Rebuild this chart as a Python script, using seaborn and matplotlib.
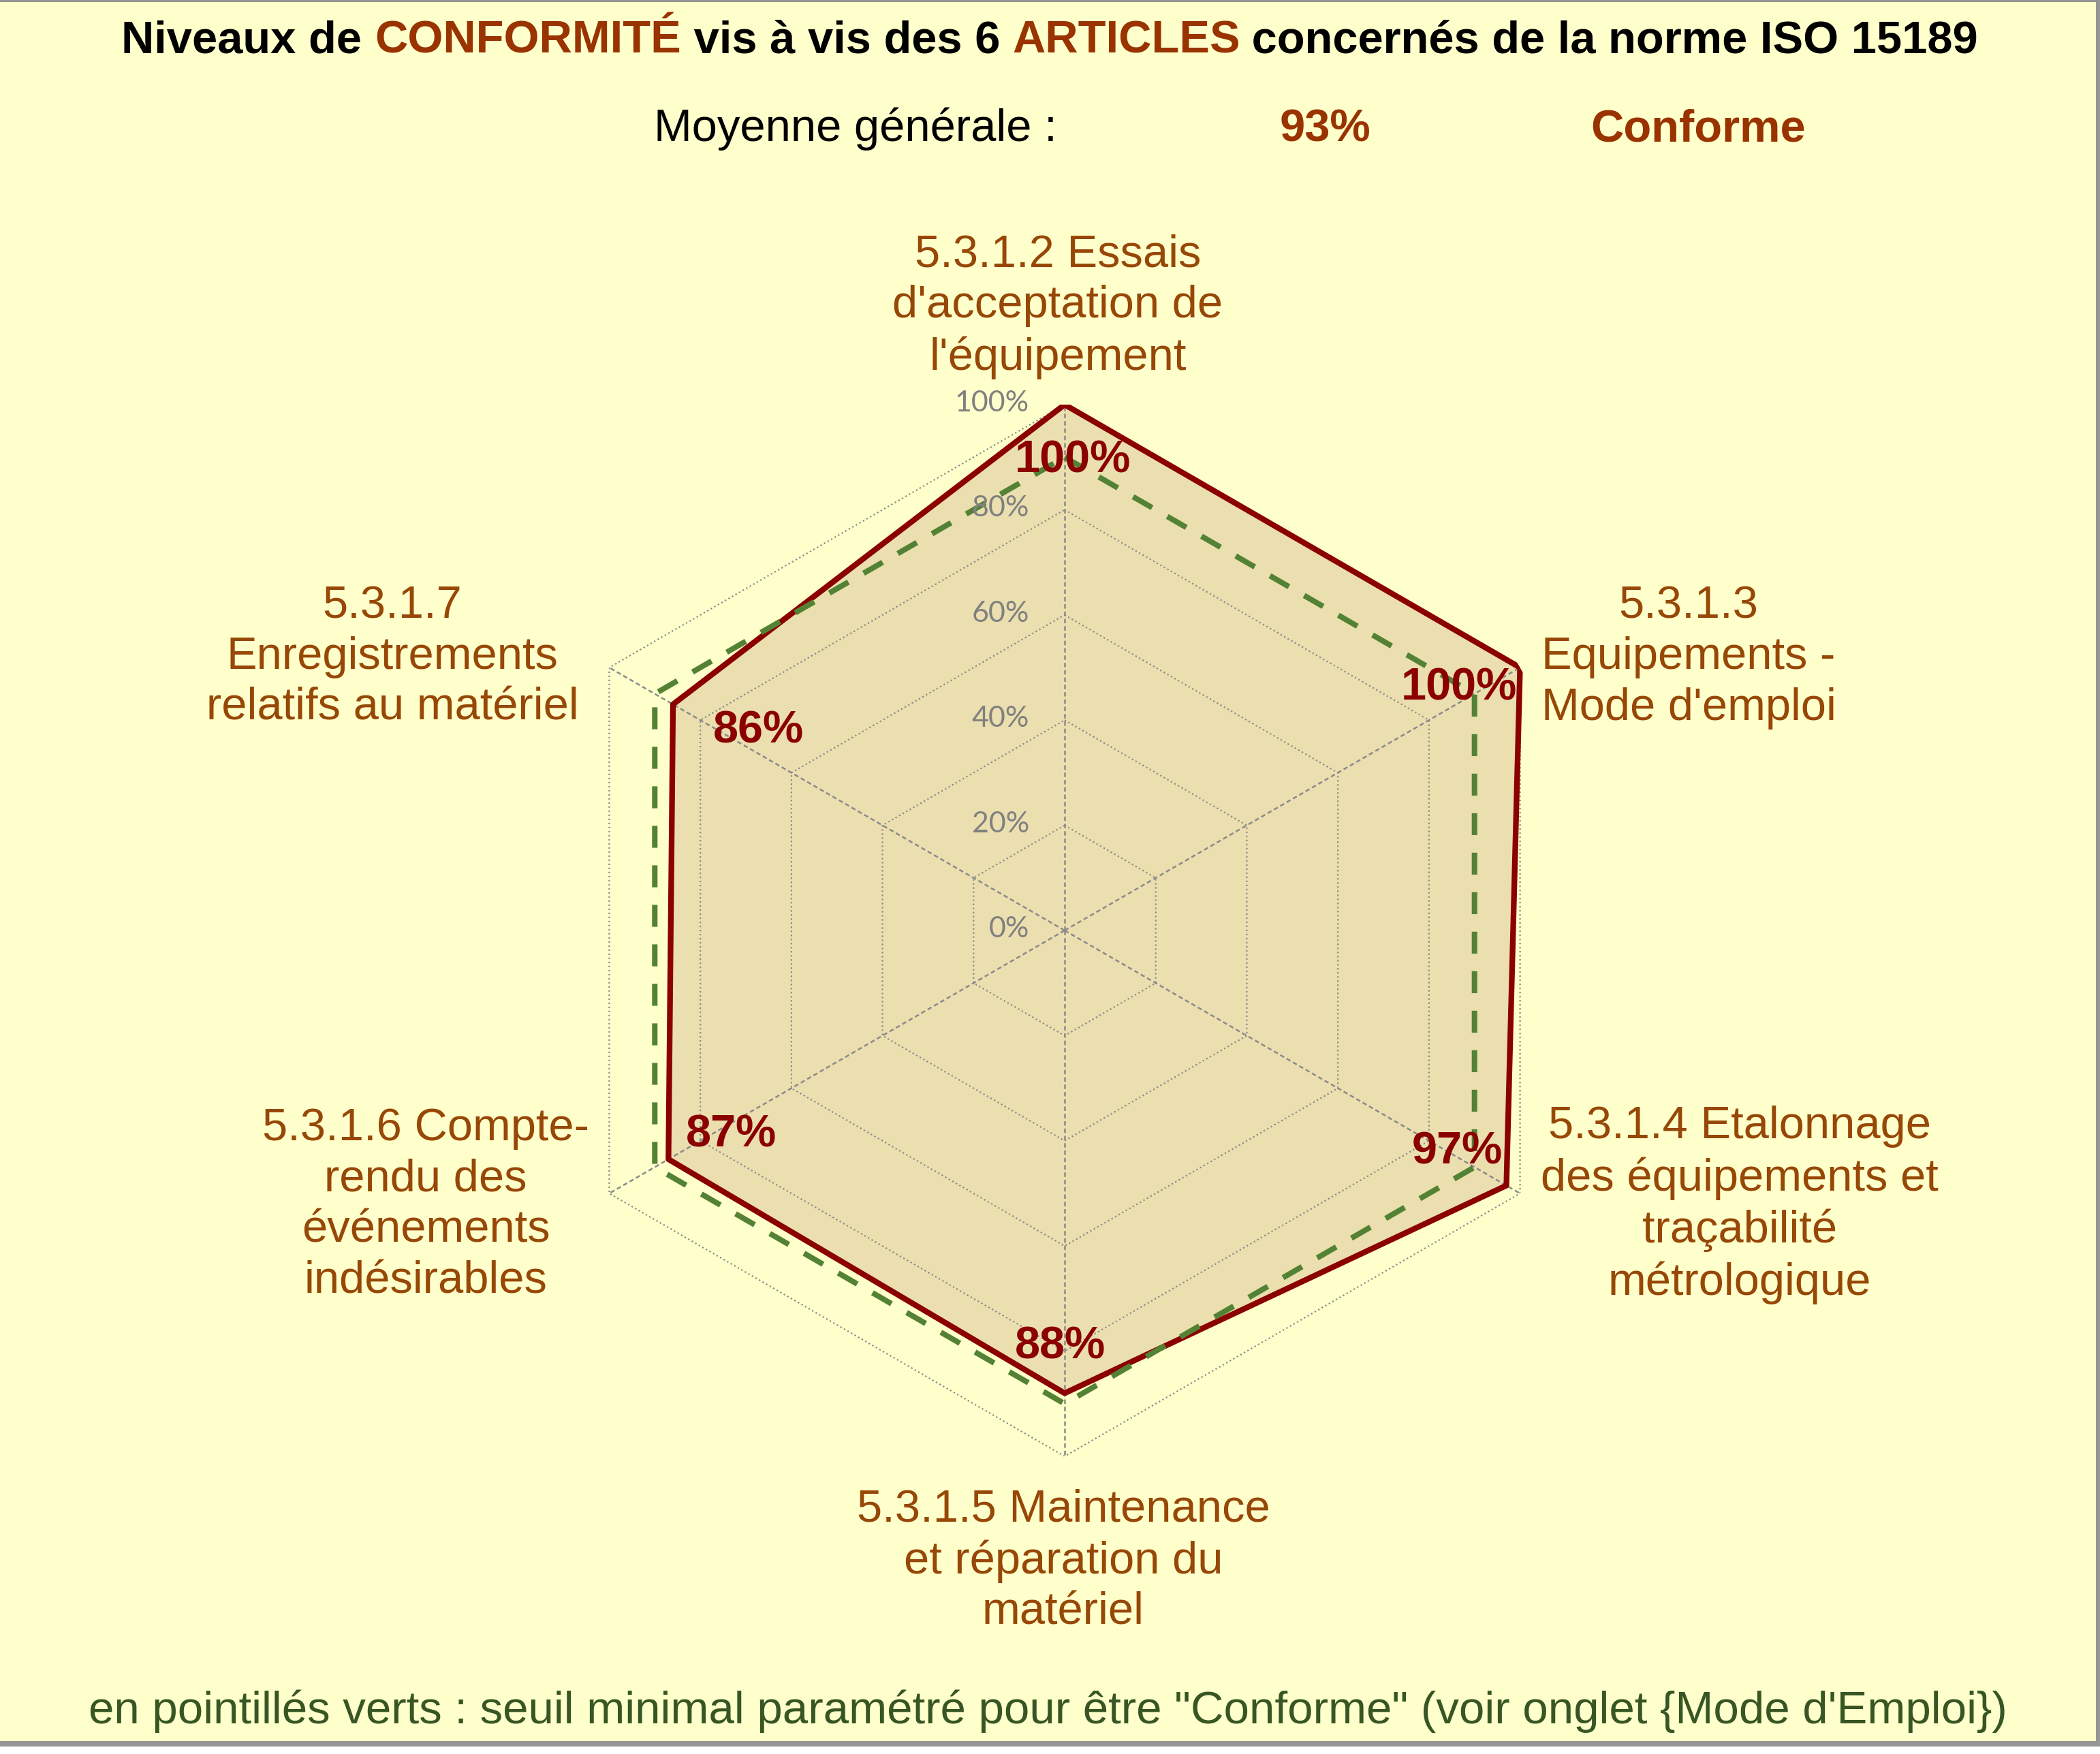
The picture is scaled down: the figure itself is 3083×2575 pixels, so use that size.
import numpy as np
import matplotlib
matplotlib.use("Agg")
import matplotlib.pyplot as plt
from matplotlib.patches import Rectangle
import seaborn as sns

# ---------------- data ----------------
categories = [
    "5.3.1.2 Essais\nd'acceptation de\nl'équipement",
    "5.3.1.3\nEquipements -\nMode d'emploi",
    "5.3.1.4 Etalonnage\ndes équipements et\ntraçabilité\nmétrologique",
    "5.3.1.5 Maintenance\net réparation du\nmatériel",
    "5.3.1.6 Compte-\nrendu des\névénements\nindésirables",
    "5.3.1.7\nEnregistrements\nrelatifs au matériel",
]
scores = [1.00, 1.00, 0.97, 0.88, 0.87, 0.86]
threshold = [0.90, 0.90, 0.90, 0.90, 0.90, 0.90]
value_labels = ["100%", "100%", "97%", "88%", "87%", "86%"]
tick_values = [0.0, 0.2, 0.4, 0.6, 0.8, 1.0]
tick_labels = ["0%", "20%", "40%", "60%", "80%", "100%"]
average_label = "Moyenne générale :"
average_value = "93%"
average_status = "Conforme"
title_parts = [
    ("Niveaux de ", "black"),
    ("CONFORMITÉ", "#993300"),
    (" vis à vis des 6 ", "black"),
    ("ARTICLES", "#993300"),
    (" concernés de la norme ISO 15189", "black"),
]
footer = 'en pointillés verts : seuil minimal paramétré pour être "Conforme" (voir onglet {Mode d\'Emploi})'

# ---------------- styling / layout ----------------
W, H, DPI = 3083, 2575, 200
BG = "#FFFFCC"
FILL = "#EBDFAF"
RED = "#8B0000"
GREEN = "#548235"
LABEL_C = "#974706"
GRID_C = "#8A8A8A"
PX = 72.0 / DPI  # points per pixel

sns.set_theme(style="white")
plt.rcParams["font.family"] = ["Liberation Sans", "DejaVu Sans"]

fig = plt.figure(figsize=(W / DPI, H / DPI), dpi=DPI, facecolor=BG)
cx, cy, R = 1563, 1366, 772
ax = fig.add_axes([(cx - R) / W, (H - cy - R) / H, 2 * R / W, 2 * R / H],
                  projection="polar")
ax.set_theta_zero_location("N")
ax.set_theta_direction(-1)
ax.set_facecolor("none")
ax.grid(False)
ax.spines["polar"].set_visible(False)
ax.set_xticks([])
ax.set_yticks([])

n = len(scores)
theta = np.arange(n) * 2 * np.pi / n
theta_c = np.append(theta, 2 * np.pi)
scores_c = np.append(scores, scores[0])
thr_c = np.append(threshold, threshold[0])

# fill
ax.fill(theta_c, scores_c, color=FILL, zorder=1, lw=0)

# hexagonal grid
for t in tick_values[1:]:
    ax.plot(theta_c, [t] * len(theta_c), color=GRID_C, lw=0.8, ls=(0, (1, 1.7)),
            zorder=2)
# spokes
for th in theta:
    ax.plot([th, th], [0, 1], color=GRID_C, lw=0.9, ls=(0, (2.6, 1.7)), zorder=2)

# data lines with seaborn
sns.lineplot(x=theta_c, y=scores_c, ax=ax, sort=False, estimator=None,
             color=RED, lw=3.0, zorder=4)
sns.lineplot(x=theta_c, y=thr_c, ax=ax, sort=False, estimator=None,
             color=GREEN, lw=2.9, zorder=5)
ax.lines[-1].set_linestyle((0, (4.0, 3.2)))
ax.set_ylim(0, 1)
ax.set_xlabel("")
ax.set_ylabel("")

# radial tick labels
for t, lab in zip(tick_values, tick_labels):
    ax.annotate(lab, xy=(0, t), xytext=(-52 * PX, 2 * PX), textcoords="offset points",
                ha="right", va="center", color="#808080", fontsize=15.5,
                family=["Lato", "DejaVu Sans"], zorder=6)

# value labels (offsets in pixels: dx right, dy up)
label_offsets = [(12, -82), (-90, -30), (-72, 49), (-7, 68), (92, 35), (125, -39)]
for th, v, lab, (dx, dy) in zip(theta, scores, value_labels, label_offsets):
    ax.annotate(lab, xy=(th, v), xytext=(dx * PX, dy * PX), textcoords="offset points",
                ha="center", va="center", color=RED, fontsize=24,
                fontweight="bold", zorder=7)

# category labels (pixel centres)
cat_pos = [(1553, 450), (2479, 965), (2554, 1769), (1561, 2292), (625, 1769), (576, 965)]
for lab, (x, y) in zip(categories, cat_pos):
    fig.text(x / W, 1 - y / H, lab, ha="center", va="center", color=LABEL_C,
             fontsize=24.1, linespacing=1.27, multialignment="center")

# title, multi-coloured
renderer = fig.canvas.get_renderer()
def text_w(s, **kw):
    t = fig.text(0, 0, s + "I", **kw)
    t2 = fig.text(0, 0, "I", **kw)
    w = t.get_window_extent(renderer).width - t2.get_window_extent(renderer).width
    t.remove(); t2.remove()
    return w

tkw = dict(fontsize=24.1, fontweight="bold")
full = "".join(p for p, _ in title_parts)
total = text_w(full, **tkw)
left = 1541 - total / 2
prefix = ""
for part, col in title_parts:
    x0 = left + (text_w(prefix, **tkw) if prefix else 0)
    fig.text(x0 / W, 1 - 78 / H, part, ha="left", va="baseline", color=col, **tkw)
    prefix += part

# average line
fig.text(960 / W, 1 - 207 / H, average_label, ha="left", va="baseline",
         color="black", fontsize=24.1)
fig.text(1946 / W, 1 - 207 / H, average_value, ha="center", va="baseline",
         color="#993300", fontsize=24.1, fontweight="bold")
fig.text(2493 / W, 1 - 207 / H, average_status, ha="center", va="baseline",
         color="#993300", fontsize=24.1, fontweight="bold")

# footer
fig.text(1538 / W, 1 - 2512 / H, footer, ha="center", va="center",
         color="#375623", fontsize=24.2)

# border
def band(x0, y0, x1, y1, col):
    fig.patches.append(Rectangle((x0 / W, 1 - y1 / H), (x1 - x0) / W, (y1 - y0) / H,
                                 transform=fig.transFigure, color=col, lw=0,
                                 zorder=10))
band(0, 0, W, 3, "#969696")
band(W - 6, 0, W, 2564, "#969696")
band(0, 2556, W, 2564, "#969696")
band(0, 2564, W, H, "white")

fig.savefig("out.png", dpi=DPI, facecolor=BG)
